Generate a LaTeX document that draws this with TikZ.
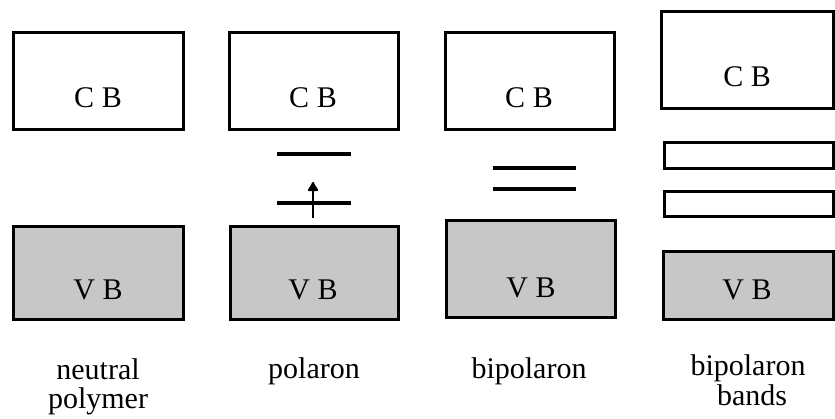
\documentclass[tikz,border=0pt]{standalone}
\usepackage{fontspec}
\setmainfont{Liberation Serif}
\usetikzlibrary{arrows.meta}
\begin{document}
\begin{tikzpicture}[x=1pt,y=-1pt,
  band/.style={draw=black, line width=3pt, anchor=north west, inner sep=0pt, outer sep=0pt},
  cbbox/.style={band, fill=white},
  vbbox/.style={band, fill=black!22},
  bandtxt/.style={anchor=base, inner sep=0pt, font=\fontsize{30}{30}\selectfont},
  caption/.style={anchor=base, inner sep=0pt, align=center, font=\fontsize{30}{30}\selectfont},
  level/.style={line width=3.2pt},
  spinarrow/.style={line width=2.4pt, -{Latex[length=11pt,width=13pt,round]}}
]
\useasboundingbox (0,0) rectangle (835,419);

% panel 1: neutral polymer
\node[cbbox, minimum width=170pt, minimum height=97pt] (cb1) at (13,33) {};
\node[vbbox, minimum width=170pt, minimum height=93pt] (vb1) at (13,227) {};
\node[bandtxt] (cbt1) at (98,108) {C B};
\node[bandtxt] (vbt1) at (98,300) {V B};
\node[caption] (cap1a) at (98,379) {neutral};
\node[caption] (cap1b) at (98,408) {polymer};

% panel 2: polaron
\node[cbbox, minimum width=169pt, minimum height=97pt] (cb2) at (229,33) {};
\node[vbbox, minimum width=168pt, minimum height=93pt] (vb2) at (230,227) {};
\node[bandtxt] (cbt2) at (313,108) {C B};
\node[bandtxt] (vbt2) at (313,300) {V B};
\coordinate (p2a) at (277,154);
\coordinate (p2b) at (351,154);
\coordinate (p2c) at (277,203);
\coordinate (p2d) at (351,203);
\draw[level] (p2a) -- (p2b);
\draw[level] (p2c) -- (p2d);
\coordinate (s0) at (313,218);
\coordinate (s1) at (313,182);
\draw[spinarrow] (s0) -- (s1);
\node[caption] (cap2) at (314,378) {polaron};

% panel 3: bipolaron
\node[cbbox, minimum width=169pt, minimum height=97pt] (cb3) at (445,33) {};
\node[vbbox, minimum width=169pt, minimum height=97pt] (vb3) at (446,221) {};
\node[bandtxt] (cbt3) at (529,108) {C B};
\node[bandtxt] (vbt3) at (531,298) {V B};
\coordinate (p3a) at (493,168);
\coordinate (p3b) at (576,168);
\coordinate (p3c) at (493,189);
\coordinate (p3d) at (576,189);
\draw[level] (p3a) -- (p3b);
\draw[level] (p3c) -- (p3d);
\node[caption] (cap3) at (529,378) {bipolaron};

% panel 4: bipolaron bands
\node[cbbox, minimum width=172pt, minimum height=97pt] (cb4) at (661,12) {};
\node[cbbox, minimum width=169pt, minimum height=26pt] (bb1) at (664,143) {};
\node[cbbox, minimum width=169pt, minimum height=25pt] (bb2) at (664,192) {};
\node[vbbox, minimum width=170pt, minimum height=68pt] (vb4) at (663,252) {};
\node[bandtxt] (cbt4) at (747,87) {C B};
\node[bandtxt] (vbt4) at (747,300) {V B};
\node[caption] (cap4a) at (748,375) {bipolaron};
\node[caption] (cap4b) at (752,405) {bands};
\end{tikzpicture}
\end{document}
